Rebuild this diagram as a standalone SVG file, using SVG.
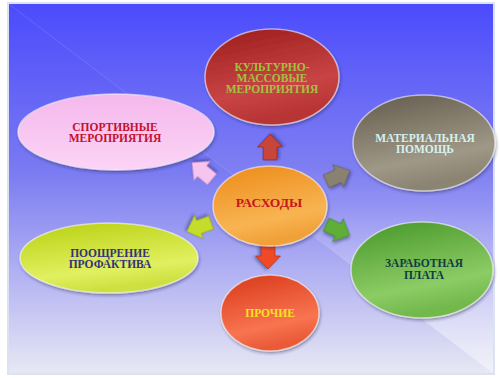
<svg xmlns="http://www.w3.org/2000/svg" width="500" height="378" viewBox="0 0 500 378">
  <defs>
    <linearGradient id="bg" x1="0" y1="0" x2="0" y2="1">
      <stop offset="0" stop-color="#4b4bfc"/>
      <stop offset="0.45" stop-color="#7a7af2"/>
      <stop offset="1" stop-color="#e8e8f4"/>
    </linearGradient>
    <linearGradient id="tri" x1="0" y1="0" x2="0" y2="1">
      <stop offset="0" stop-color="#ffffff" stop-opacity="0"/>
      <stop offset="0.55" stop-color="#ffffff" stop-opacity="0.05"/>
      <stop offset="1" stop-color="#ffffff" stop-opacity="0.45"/>
    </linearGradient>
    <linearGradient id="gRed" x1="0" y1="0" x2="0.3" y2="1">
      <stop offset="0" stop-color="#9c1c1c"/>
      <stop offset="0.7" stop-color="#c84444"/>
      <stop offset="1" stop-color="#b83434"/>
    </linearGradient>
    <linearGradient id="gPink" x1="0" y1="0" x2="0" y2="1">
      <stop offset="0" stop-color="#f4b8ec"/>
      <stop offset="1" stop-color="#fcd4f6"/>
    </linearGradient>
    <linearGradient id="gGray" x1="0" y1="0" x2="0.3" y2="1">
      <stop offset="0" stop-color="#625a4c"/>
      <stop offset="0.75" stop-color="#a09886"/>
      <stop offset="1" stop-color="#8c8472"/>
    </linearGradient>
    <linearGradient id="gOrange" x1="0" y1="0" x2="0.3" y2="1">
      <stop offset="0" stop-color="#ec8a18"/>
      <stop offset="0.75" stop-color="#f8b452"/>
      <stop offset="1" stop-color="#f0a038"/>
    </linearGradient>
    <linearGradient id="gLime" x1="0" y1="0" x2="0.3" y2="1">
      <stop offset="0" stop-color="#b8d010"/>
      <stop offset="0.75" stop-color="#e0f060"/>
      <stop offset="1" stop-color="#cce040"/>
    </linearGradient>
    <linearGradient id="gOther" x1="0" y1="0" x2="0.3" y2="1">
      <stop offset="0" stop-color="#d83818"/>
      <stop offset="0.75" stop-color="#f87450"/>
      <stop offset="1" stop-color="#ea5a38"/>
    </linearGradient>
    <linearGradient id="gGreen" x1="0" y1="0" x2="0.3" y2="1">
      <stop offset="0" stop-color="#46962a"/>
      <stop offset="0.75" stop-color="#8ccc64"/>
      <stop offset="1" stop-color="#72b84c"/>
    </linearGradient>
    <filter id="sh" x="-20%" y="-20%" width="140%" height="140%">
      <feDropShadow dx="1" dy="2" stdDeviation="1.5" flood-color="#202050" flood-opacity="0.45"/>
    </filter>
    <polygon id="arr" points="-13,-7 0,-7 0,-12.5 13,0 0,12.5 0,7 -13,7"/>
  </defs>
  <style>
    .node ellipse { stroke: #ffffff; stroke-opacity: 0.55; stroke-width: 1.5; filter: url(#sh); }
    .node text { font-family: "Liberation Serif", "DejaVu Serif", serif; font-weight: bold; font-size: 11.5px; text-anchor: middle; }
    .arrow use { stroke-width: 1; stroke-opacity: 0.6; filter: url(#sh); }
  </style>

  <!-- background slide -->
  <rect x="0" y="0" width="500" height="378" fill="#ffffff"/>
  <rect x="8" y="3" width="486" height="371" fill="url(#bg)" stroke="#dbe3f2" stroke-width="2"/>
  <polygon points="9,4 493,4 493,373" fill="url(#tri)"/>
  <line x1="9" y1="4" x2="493" y2="373" stroke="#ffffff" stroke-opacity="0.12" stroke-width="1"/>

  <g id="connectors" class="arrow">
    <use href="#arr" transform="translate(270,147) rotate(-90)" fill="#c8443a" stroke="#8a2020"/>
    <use href="#arr" transform="translate(268,256) rotate(90)" fill="#f04a28" stroke="#a82a10"/>
    <use href="#arr" transform="translate(202,171) rotate(-140)" fill="#f6c4ee" stroke="#c890c0"/>
    <use href="#arr" transform="translate(338,176) rotate(-25)" fill="#8a8270" stroke="#5a5444"/>
    <use href="#arr" transform="translate(199,227) rotate(160)" fill="#c4dc2a" stroke="#889a10"/>
    <use href="#arr" transform="translate(338,230) rotate(25)" fill="#5eae38" stroke="#3a7a20"/>
  </g>

  <g id="node-culture" class="node">
    <ellipse cx="272" cy="77" rx="67" ry="48" fill="url(#gRed)"/>
    <text fill="#a4c040"><tspan x="272" y="71">КУЛЬТУРНО-</tspan><tspan x="272" y="82">МАССОВЫЕ</tspan><tspan x="272" y="93">МЕРОПРИЯТИЯ</tspan></text>
  </g>

  <g id="node-sport" class="node">
    <ellipse cx="116" cy="132" rx="98" ry="38" fill="url(#gPink)"/>
    <text fill="#c41030"><tspan x="115" y="131">СПОРТИВНЫЕ</tspan><tspan x="115" y="142">МЕРОПРИЯТИЯ</tspan></text>
  </g>

  <g id="node-help" class="node">
    <ellipse cx="424" cy="143" rx="71" ry="48" fill="url(#gGray)"/>
    <text fill="#d4f2f0"><tspan x="425" y="142">МАТЕРИАЛЬНАЯ</tspan><tspan x="425" y="153">ПОМОЩЬ</tspan></text>
  </g>

  <g id="node-expenses" class="node">
    <ellipse cx="270" cy="206" rx="57" ry="40" fill="url(#gOrange)"/>
    <text x="269" y="207" fill="#c41818" style="font-size:13.5px">РАСХОДЫ</text>
  </g>

  <g id="node-bonus" class="node">
    <ellipse cx="109" cy="258" rx="89" ry="35" fill="url(#gLime)"/>
    <text fill="#33337a"><tspan x="110" y="257">ПООЩРЕНИЕ</tspan><tspan x="110" y="268">ПРОФАКТИВА</tspan></text>
  </g>

  <g id="node-other" class="node">
    <ellipse cx="270" cy="313" rx="49" ry="38" fill="url(#gOther)"/>
    <text x="270" y="317" fill="#f8e020">ПРОЧИЕ</text>
  </g>

  <g id="node-salary" class="node">
    <ellipse cx="422" cy="270" rx="71" ry="48" fill="url(#gGreen)"/>
    <text fill="#103c44"><tspan x="424" y="267">ЗАРАБОТНАЯ</tspan><tspan x="424" y="279">ПЛАТА</tspan></text>
  </g>
</svg>
